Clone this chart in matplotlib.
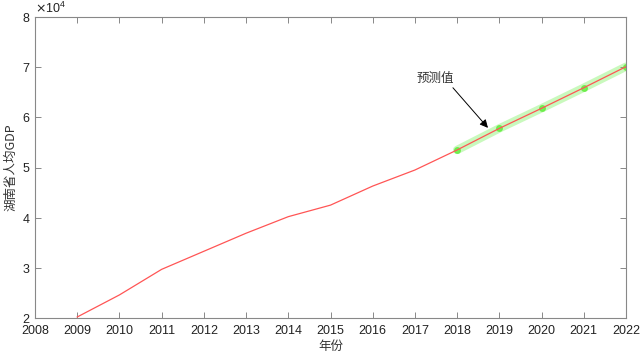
import numpy as np
import matplotlib.pyplot as plt
from matplotlib.ticker import ScalarFormatter

plt.rcParams['font.family'] = ['Liberation Sans', 'Noto Sans CJK SC', 'DejaVu Sans']

# 年份与人均GDP
years = [2009, 2010, 2011, 2012, 2013, 2014, 2015, 2016, 2017, 2018, 2019, 2020, 2021, 2022]
gdp = [20200, 24600, 29700, 33300, 36900, 40200, 42500, 46300, 49500, 53500, 57800, 61800, 65900, 70100]
# 预测部分
pred_years = [2018, 2019, 2020, 2021, 2022]
pred_gdp = [53500, 57800, 61800, 65900, 70100]

fig = plt.figure(figsize=(6.42, 3.58), dpi=100)
ax = fig.add_axes([35/642, 1-318/358, (626-35)/642, (318-17)/358])

ax.plot(pred_years, pred_gdp, color='#66ee44', alpha=0.35, linewidth=6, solid_capstyle='round')
ax.plot(pred_years, pred_gdp, 'o', color='#66ee44', markersize=4, alpha=0.85)
ax.plot(years, gdp, color='#ff5555', linewidth=0.9)

ax.set_xlim(2008, 2022)
ax.set_ylim(20000, 80000)
ax.set_xticks(range(2008, 2023))
ax.set_yticks([20000, 30000, 40000, 50000, 60000, 70000, 80000])

fmt = ScalarFormatter(useMathText=True)
fmt.set_powerlimits((0, 0))
ax.yaxis.set_major_formatter(fmt)
ax.yaxis.get_offset_text().set_fontsize(9)
ax.yaxis.get_offset_text().set_color('#333333')

for s in ax.spines.values():
    s.set_color('#888888')
    s.set_linewidth(0.8)
ax.tick_params(direction='in', top=True, right=True, length=4, width=0.7,
               color='#888888', labelsize=9, labelcolor='#222222')
ax.tick_params(axis='x', pad=5)

ax.set_xlabel('年份', family=['Noto Sans CJK SC'], fontsize=9, color='#333333', labelpad=2)
ax.set_ylabel('湖南省人均GDP', family=['Noto Sans CJK SC', 'Liberation Sans'], fontsize=9,
              color='#333333', labelpad=3)

ax.text(2017.48, 67800, '预测值', family=['Noto Sans CJK SC'], fontsize=9, color='#333333',
        ha='center', va='center')
ax.annotate('', xy=(2018.73, 57900), xytext=(2017.9, 65900),
            arrowprops=dict(arrowstyle='-|>', color='black', lw=0.7, mutation_scale=12,
                            shrinkA=0, shrinkB=0))

plt.savefig('out.png', dpi=100)
